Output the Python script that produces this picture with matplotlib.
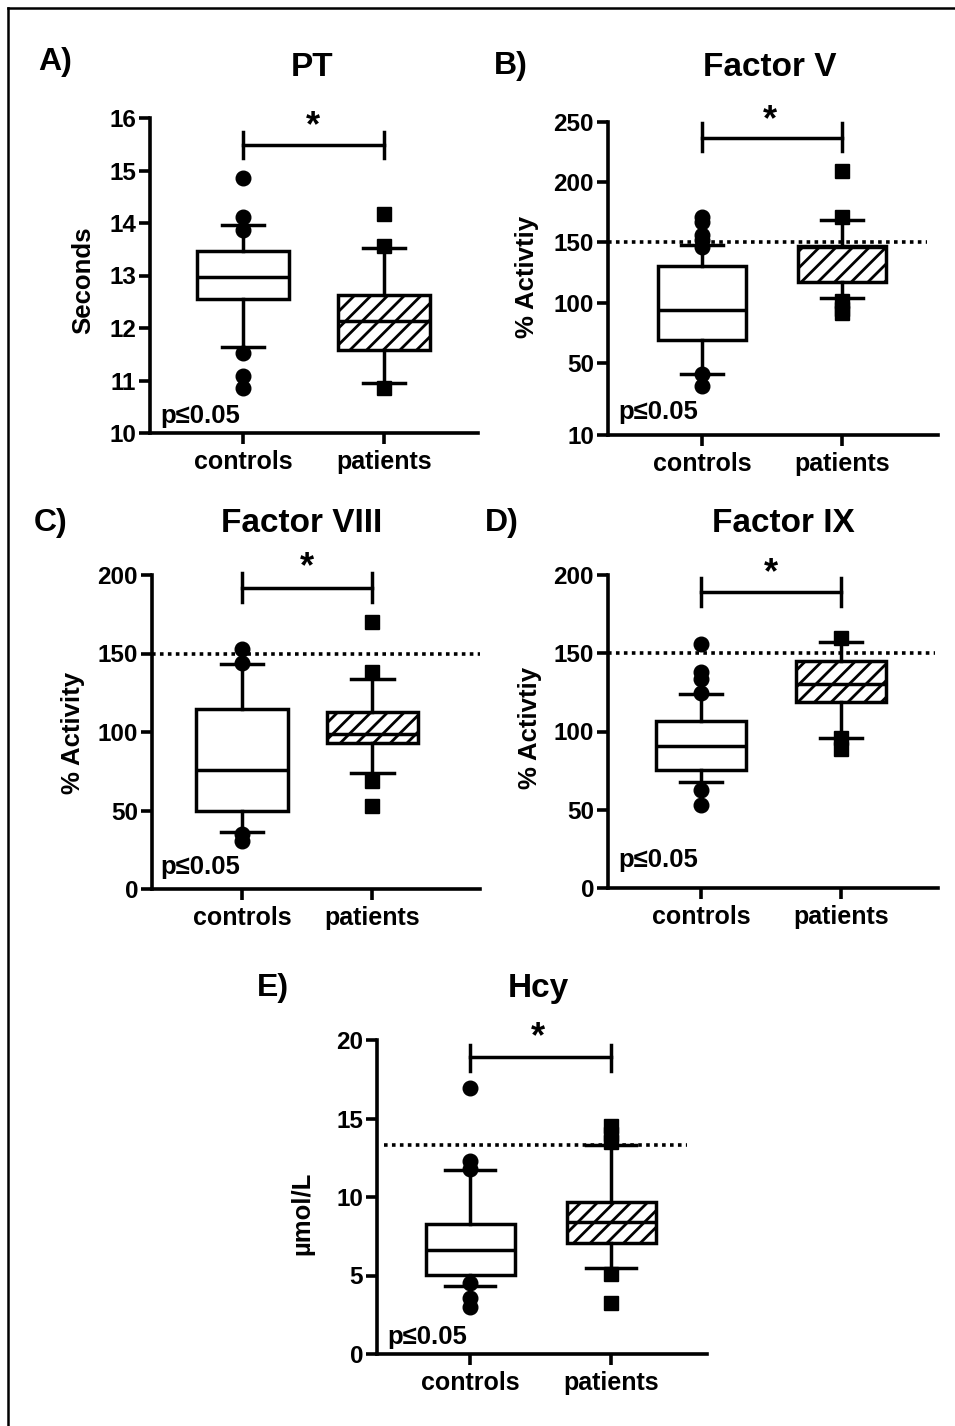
import numpy as np
import matplotlib
matplotlib.use("Agg")
import matplotlib.pyplot as plt
from matplotlib.lines import Line2D

plt.rcParams['font.family'] = ['Liberation Sans', 'DejaVu Sans']
plt.rcParams['font.weight'] = 'bold'
plt.rcParams['hatch.linewidth'] = 2.0

W, H = 955, 1426

groups = ["controls", "patients"]

# PT (seconds)
pt_q1 = [12.55, 11.58]
pt_med = [12.97, 12.13]
pt_q3 = [13.47, 12.63]
pt_lo = [11.64, 10.95]
pt_hi = [13.96, 13.53]
pt_out = [[14.86, 14.11, 13.87, 11.52, 11.09, 10.86], [14.17, 13.57, 10.86]]

# Factor V (% activity)
fv_q1 = [69, 117]
fv_med = [94, 146]
fv_q3 = [130, 147]
fv_lo = [44, 104]
fv_hi = [148, 169]
fv_out = [[171, 167, 156, 152, 146, 44, 37], [209, 171, 101, 95, 91]]

# Factor VIII (% activity)
f8_q1 = [50, 93]
f8_med = [76, 99]
f8_q3 = [114.5, 113]
f8_lo = [36, 74]
f8_hi = [143.5, 134]
f8_out = [[153, 144, 35, 30.5], [170, 138, 69, 53]]

# Factor IX (% activity)
f9_q1 = [75.6, 119]
f9_med = [90.6, 130.3]
f9_q3 = [107, 145.3]
f9_lo = [68, 96]
f9_hi = [123.8, 157]
f9_out = [[156, 138, 133.5, 124.5, 62.5, 52.8], [160, 96, 89]]

# Hcy (umol/L)
hc_q1 = [5.06, 7.1]
hc_med = [6.6, 8.4]
hc_q3 = [8.25, 9.7]
hc_lo = [4.35, 5.5]
hc_hi = [11.75, 13.3]
hc_out = [[16.95, 12.27, 11.8, 4.5, 3.55, 3.0], [14.5, 14.0, 13.5, 5.1, 3.25]]

fig = plt.figure(figsize=(W / 100, H / 100), dpi=100)


def px_axes(left, right, top, bottom):
    return fig.add_axes([left / W, 1 - bottom / H, (right - left) / W, (bottom - top) / H])


def ftext(x, y, s, **kw):
    fig.text(x / W, 1 - y / H, s, **kw)


def panel(rect, xlim, ylim, yticks, q1, med, q3, lo, hi, out, width, capw,
          bracket, ref=None, refspan=(0, 1), scale=None):
    ax = px_axes(*rect)
    if scale is not None:
        ax.set_yscale('function', functions=scale)
    stats = []
    for i in range(2):
        stats.append(dict(q1=q1[i], med=med[i], q3=q3[i], whislo=lo[i], whishi=hi[i],
                          fliers=[], label=groups[i]))
    lw = 2.5
    bp = ax.bxp(stats, positions=[1, 2], widths=width, patch_artist=True,
                showfliers=False, capwidths=capw,
                boxprops=dict(facecolor='white', edgecolor='black', linewidth=lw),
                medianprops=dict(color='black', linewidth=lw),
                whiskerprops=dict(color='black', linewidth=lw),
                capprops=dict(color='black', linewidth=lw))
    bp['boxes'][1].set_hatch('//')
    ax.plot([1] * len(out[0]), out[0], 'o', color='black', ms=10.5, zorder=5, clip_on=False)
    ax.plot([2] * len(out[1]), out[1], 's', color='black', ms=9.5, zorder=5, clip_on=False)
    if ref is not None:
        ax.axhline(ref, xmin=refspan[0], xmax=refspan[1], color='black', lw=2.6,
                   linestyle=(0, (1, 1.2)), zorder=1)
    yb, yt, ybot = bracket
    ax.plot([1, 2], [yb, yb], color='black', lw=lw, clip_on=False)
    for xx in (1, 2):
        ax.plot([xx, xx], [ybot, yt], color='black', lw=lw, clip_on=False)
    ax.set_xlim(*xlim)
    ax.set_ylim(*ylim)
    ax.set_yticks(yticks)
    ax.set_yticklabels([str(t) for t in yticks])
    ax.set_xticks([1, 2])
    ax.set_xticklabels(groups)
    for s in ('top', 'right'):
        ax.spines[s].set_visible(False)
    for s in ('left', 'bottom'):
        ax.spines[s].set_linewidth(2.6)
    ax.tick_params(axis='both', width=2.6, length=8, direction='out')
    ax.tick_params(axis='y', labelsize=17.5, pad=2)
    ax.tick_params(axis='x', labelsize=18, pad=4)
    ax.patch.set_alpha(0)
    return ax


def fwd(y):
    y = np.asarray(y, dtype=float)
    return np.where(y >= 50, y, 50 - (50 - y) * 1.5)


def inv(y):
    y = np.asarray(y, dtype=float)
    return np.where(y >= 50, y, 50 - (50 - y) / 1.5)


# A) PT
axA = panel((150, 478, 118, 433), (0.34, 2.667), (10, 16), [10, 11, 12, 13, 14, 15, 16],
            pt_q1, pt_med, pt_q3, pt_lo, pt_hi, pt_out, 0.65, 0.3, (15.49, 15.74, 15.24))
# B) Factor V
axB = panel((608, 938, 122, 435), (0.329, 2.686), (10, 250), [10, 50, 100, 150, 200, 250],
            fv_q1, fv_med, fv_q3, fv_lo, fv_hi, fv_out, 0.63, 0.3, (237, 249, 226),
            ref=150, refspan=(0, 0.967), scale=(fwd, inv))
# C) Factor VIII
axC = panel((152, 480, 575, 889), (0.308, 2.83), (0, 200), [0, 50, 100, 150, 200],
            f8_q1, f8_med, f8_q3, f8_lo, f8_hi, f8_out, 0.7, 0.33, (192, 201, 183),
            ref=150, refspan=(0, 1))
# D) Factor IX
axD = panel((608, 938, 575, 888), (0.336, 2.69), (0, 200), [0, 50, 100, 150, 200],
            f9_q1, f9_med, f9_q3, f9_lo, f9_hi, f9_out, 0.64, 0.3, (189, 198, 180),
            ref=150, refspan=(0, 0.99))
# E) Hcy
axE = panel((377, 707, 1040, 1354), (0.34, 2.68), (0, 20), [0, 5, 10, 15, 20],
            hc_q1, hc_med, hc_q3, hc_lo, hc_hi, hc_out, 0.63, 0.36, (18.9, 19.7, 18.0),
            ref=13.3, refspan=(0.02, 0.94))

# titles, panel letters, y labels, stars, p-values
tkw = dict(fontsize=24, fontweight='bold', ha='center', va='center')
ftext(312, 68, "PT", **tkw)
ftext(770, 68, "Factor V", **tkw)
ftext(302, 523, "Factor VIII", **tkw)
ftext(783, 523, "Factor IX", **tkw)
ftext(538, 988, "Hcy", **tkw)

lkw = dict(fontsize=23, fontweight='bold', ha='left', va='center')
ftext(38, 62, "A)", **lkw)
ftext(494, 66, "B)", **lkw)
ftext(34, 523, "C)", **lkw)
ftext(485, 523, "D)", **lkw)
ftext(257, 988, "E)", **lkw)

ykw = dict(fontsize=18.5, fontweight='bold', ha='center', va='center', rotation=90)
ftext(83, 280, "Seconds", **ykw)
ftext(527, 277, "% Activtiy", **ykw)
ftext(73, 733, "% Activity", **ykw)
ftext(530, 728, "% Activtiy", **ykw)
ftext(302, 1213, "µmol/L", **ykw)

skw = dict(fontsize=26, fontweight='bold', ha='center', va='center')
ftext(313, 127, "*", **skw)
ftext(770, 121, "*", **skw)
ftext(307, 568, "*", **skw)
ftext(771, 574, "*", **skw)
ftext(538, 1038, "*", **skw)

pkw = dict(fontsize=18.5, fontweight='bold', ha='left', va='center')
ftext(160, 416, "p≤0.05", **pkw)
ftext(618, 412, "p≤0.05", **pkw)
ftext(160, 867, "p≤0.05", **pkw)
ftext(618, 860, "p≤0.05", **pkw)
ftext(387, 1337, "p≤0.05", **pkw)

# outer frame (top and left edges)
fig.add_artist(Line2D([8 / W, 1], [1 - 8 / H, 1 - 8 / H], transform=fig.transFigure,
                      color='black', lw=1.8))
fig.add_artist(Line2D([8 / W, 8 / W], [0, 1 - 8 / H], transform=fig.transFigure,
                      color='black', lw=1.8))

fig.savefig("out.png", dpi=100, facecolor='white')
